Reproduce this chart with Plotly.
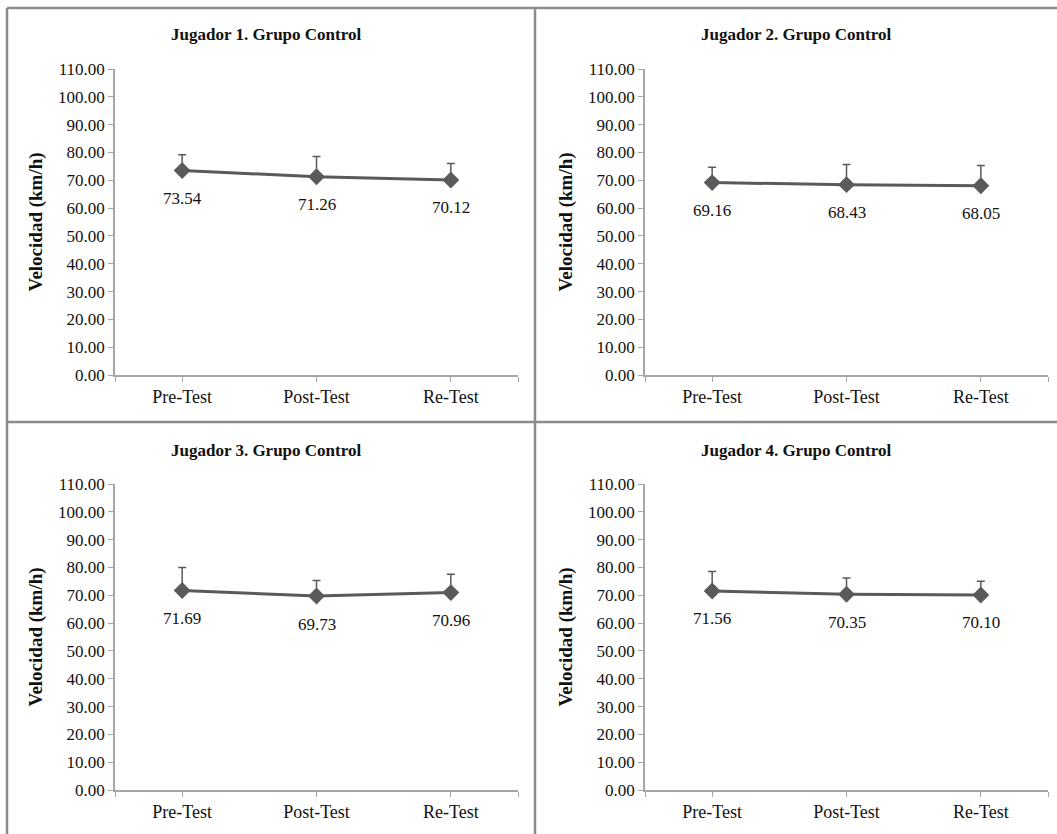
import plotly.graph_objects as go

W, H = 1057, 834

categories = ["Pre-Test", "Post-Test", "Re-Test"]
titles = ["Jugador 1. Grupo Control", "Jugador 2. Grupo Control",
          "Jugador 3. Grupo Control", "Jugador 4. Grupo Control"]
jugador1 = [73.54, 71.26, 70.12]
jugador2 = [69.16, 68.43, 68.05]
jugador3 = [71.69, 69.73, 70.96]
jugador4 = [71.56, 70.35, 70.10]
sd1 = [5.6, 7.3, 5.9]
sd2 = [5.5, 7.2, 7.3]
sd3 = [8.3, 5.6, 6.6]
sd4 = [7.0, 5.9, 4.9]
y_ticks = list(range(0, 111, 10))

series = [jugador1, jugador2, jugador3, jugador4]
sds = [sd1, sd2, sd3, sd4]

# pixel boxes (x0, x1, ytop, ybottom) of each plot area
boxes = [(115, 518, 69, 375), (645, 1048, 69, 375),
         (115, 518, 484, 790), (645, 1048, 484, 790)]
title_pos = [(266, 35), (796, 35), (266, 450), (796, 450)]

FONT = "Liberation Serif, Times New Roman, serif"
GRAY = "#5a5a5a"
AXC = "#a6a6a6"
TXT = "#111111"

fig = go.Figure()
for i, (vals, sd, box) in enumerate(zip(series, sds, boxes)):
    n = "" if i == 0 else str(i + 1)
    fig.add_trace(go.Scatter(
        x=categories, y=vals, mode="lines+markers",
        xaxis="x" + n, yaxis="y" + n,
        line=dict(color=GRAY, width=3),
        marker=dict(symbol="diamond", size=13, color=GRAY),
        error_y=dict(type="data", symmetric=False, array=sd,
                     arrayminus=[0] * len(sd), color=GRAY,
                     thickness=1.5, width=4),
        showlegend=False, hoverinfo="skip"))
    x0, x1, yt, yb = box
    fig.layout["xaxis" + n] = dict(
        domain=[x0 / W, x1 / W], anchor="y" + n, type="category",
        range=[-0.5, 2.5], tickvals=[-0.5, 0, 1, 2, 2.5],
        ticktext=["", categories[0], categories[1], categories[2], ""],
        ticks="outside", ticklen=5, tickcolor=AXC, automargin=False,
        showline=True, linecolor=AXC, linewidth=1.5,
        showgrid=False, zeroline=False,
        tickfont=dict(family=FONT, size=18, color=TXT))
    fig.layout["yaxis" + n] = dict(
        domain=[1 - yb / H, 1 - yt / H], anchor="x" + n,
        range=[0, 110], tickvals=y_ticks, tickformat=".2f",
        ticks="outside", ticklen=5, tickcolor=AXC, automargin=False,
        showline=True, linecolor=AXC, linewidth=1.5,
        showgrid=False, zeroline=False,
        tickfont=dict(family=FONT, size=17, color=TXT),
        title=dict(text="<b>Velocidad (km/h)</b>", standoff=10,
                   font=dict(family=FONT, size=19, color=TXT)))
    for c, v in zip(categories, vals):
        fig.add_annotation(x=c, y=v, xref="x" + n, yref="y" + n,
                           text=f"{v:.2f}", showarrow=False, yshift=-28,
                           font=dict(family=FONT, size=17, color=TXT))
    tx, ty = title_pos[i]
    fig.add_annotation(x=tx / W, y=1 - ty / H, xref="paper", yref="paper",
                       xanchor="center", yanchor="middle",
                       text=f"<b>{titles[i]}</b>", showarrow=False,
                       font=dict(family=FONT, size=17, color=TXT))

# panel borders
lc = dict(color="#8c8c8c", width=2.5)
shapes = [
    dict(type="line", xref="paper", yref="paper", x0=7 / W, x1=1, y0=1 - 8 / H, y1=1 - 8 / H, line=lc),
    dict(type="line", xref="paper", yref="paper", x0=7 / W, x1=7 / W, y0=0, y1=1 - 8 / H, line=lc),
    dict(type="line", xref="paper", yref="paper", x0=535 / W, x1=535 / W, y0=0, y1=1 - 8 / H, line=lc),
    dict(type="line", xref="paper", yref="paper", x0=7 / W, x1=1, y0=1 - 422 / H, y1=1 - 422 / H, line=lc),
]
fig.update_layout(width=W, height=H, margin=dict(l=0, r=0, t=0, b=0, autoexpand=False),
                  paper_bgcolor="white", plot_bgcolor="white", shapes=shapes)

fig.write_html("out.html", config={"displayModeBar": False},
               post_script="document.body.style.margin='0';document.body.style.overflow='hidden';")
